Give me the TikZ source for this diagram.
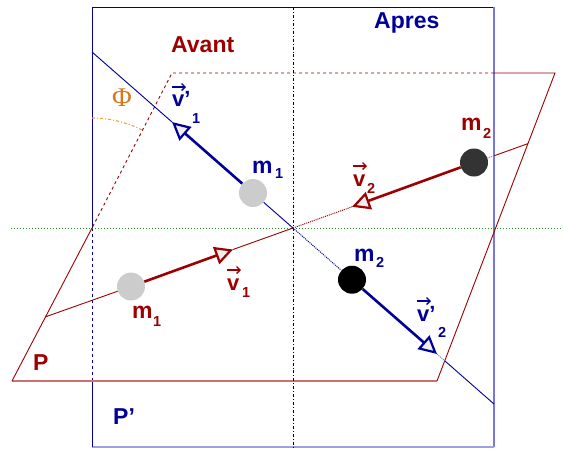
\documentclass[tikz,border=0pt]{standalone}
\usepackage{fontspec}
\setmainfont{Liberation Sans}
\newfontfamily\phifont{Liberation Serif}
\usetikzlibrary{arrows.meta}
\definecolor{dred}{HTML}{9C0000}
\definecolor{dblue}{HTML}{000099}
\definecolor{mblue}{HTML}{2222AA}
\definecolor{lblue}{HTML}{7777DD}
\definecolor{llblue}{HTML}{A0A0E0}
\definecolor{lred}{HTML}{CC7070}
\definecolor{phiorange}{HTML}{F0A040}
\definecolor{phitext}{HTML}{D9761A}
\definecolor{dgreen}{HTML}{228B22}
\definecolor{lgray}{HTML}{CCCCCC}
\definecolor{dgray}{HTML}{333333}
\definecolor{tipfill}{HTML}{EEEEEE}
\begin{document}
\begin{tikzpicture}[x=1pt,y=-1pt,
  big/.style={font=\fontsize{23}{23}\selectfont\bfseries, inner sep=0pt, anchor=base west},
  vlab/.style={font=\fontsize{22}{22}\selectfont\bfseries, inner sep=0pt, anchor=base west},
  sublab/.style={font=\fontsize{14.5}{14.5}\selectfont\bfseries, inner sep=0pt, anchor=base west},
  fineline/.style={line width=0.9pt},
  thickline/.style={line width=2.6pt, -{Triangle[length=18pt,width=18pt,fill=tipfill,line width=2.2pt]}},
  dotline/.style={line width=1pt, densely dotted},
  ball/.style={circle, inner sep=0pt, minimum size=28pt},
  vecarrow/.style={line width=1.3pt, -{Straight Barb[length=3.5pt,width=7pt]}}
]
\useasboundingbox (0,0) rectangle (563,448);

% Plane P' (frame)
\coordinate (F1) at (92,7);
\coordinate (F2) at (494,7);
\coordinate (F3) at (494,447);
\coordinate (F4) at (92,447);
\coordinate (FL1) at (92,228);
\coordinate (FL2) at (92,381);
\draw[dblue, fineline] (FL1) -- (F1) -- (F2);
\draw[lblue, line width=1.2pt] (F2) -- (F3);
\draw[llblue, line width=1.2pt] (F3) -- (F4);
\draw[dblue, fineline] (F4) -- (FL2);
\draw[dblue, fineline, dashed] (FL2) -- (FL1);

% Plane P
\coordinate (A) at (12,381);
\coordinate (B) at (437,381);
\coordinate (C) at (555,73);
\coordinate (D) at (172,73);
\coordinate (DT) at (494,73);
\draw[lred, line width=2pt] (A) -- (B);
\draw[dred, fineline] (B) -- (C) -- (DT);
\draw[dred, fineline, dashed] (DT) -- (D) -- (FL1);
\draw[dred, fineline] (FL1) -- (A);

% axes
\coordinate (V1) at (293,7);
\coordinate (V2) at (293,447);
\draw[black, fineline, dash dot] (V1) -- (V2);
\coordinate (G1) at (11,228);
\coordinate (G2) at (563,228);
\draw[dgreen, line width=1pt, dotted] (G1) -- (G2);

% angle Phi
\coordinate (phistart) at (92,118);
\draw[phiorange, line width=1.1pt, dash dot] (phistart) arc[start angle=-90, end angle=-62.7, radius=110];
\node[text=phitext, font=\phifont\fontsize{27}{27}\selectfont, inner sep=0pt] (phi) at (122,98) {Φ};

% balls
\node[ball, fill=lgray] (m1a) at (131,286.5) {};
\node[ball, fill=dgray] (m2a) at (474,162.5) {};
\node[ball, fill=lgray] (m1b) at (253,193) {};
\node[ball, fill=black] (m2b) at (352,279.7) {};

% red trajectory (avant)
\coordinate (O) at (293,228);
\coordinate (rl) at (45,317);
\coordinate (rr) at (528,143.6);
\coordinate (rx) at (494,155.8);
\coordinate (v1tip) at (233,249.5);
\coordinate (v2tip) at (352,206.8);
\draw[dred, fineline] (rl) -- (m1a);
\draw[dred, thickline] (m1a) -- (v1tip);
\draw[dred, fineline] (v1tip) -- (O);
\draw[dred, dotline] (O) -- (v2tip);
\draw[dred, thickline] (m2a) -- (v2tip);
\draw[lred, dotline] (m2a) -- (rx);
\draw[dred, fineline] (rx) -- (rr);

% blue trajectory (apres)
\coordinate (bl) at (92,52);
\coordinate (br) at (494,404);
\coordinate (bx) at (445,361);
\coordinate (w1tip) at (172,122);
\coordinate (w2tip) at (437,354);
\draw[dblue, fineline] (bl) -- (w1tip);
\draw[dblue, thickline] (m1b) -- (w1tip);
\draw[dblue, fineline] (m1b) -- (O);
\draw[dblue, dotline] (O) -- (m2b);
\draw[dblue, thickline] (m2b) -- (w2tip);
\draw[lblue, dotline] (w2tip) -- (bx);
\draw[dblue, fineline] (bx) -- (br);

% titles
\node[big, text=dred] (avant) at (171,52) {Avant};
\node[big, text=dblue] (apres) at (374,28) {Apres};
\node[big, text=dred] (plab) at (33,370) {P};
\node[big, text=dblue] (pplab) at (113,424) {P’};

% mass labels
\node[big, text=dblue] (lm1b) at (252,173) {m};
\node[sublab, text=dblue] (lm1bs) at (275,178) {1};
\node[big, text=dred] (lm1a) at (132,318) {m};
\node[sublab, text=dred] (lm1as) at (153,326) {1};
\node[big, text=dblue] (lm2b) at (354,261) {m};
\node[sublab, text=dblue] (lm2bs) at (376,267) {2};
\node[big, text=dred] (lm2a) at (461,130) {m};
\node[sublab, text=dred] (lm2as) at (483,138) {2};

% velocity labels
\node[vlab, text=dred] (lv1) at (227,290) {v};
\node[sublab, text=dred] (lv1s) at (242,297) {1};
\draw[dred, vecarrow] (227,270) -- (241,270);
\node[vlab, text=dred] (lv2) at (353,186) {v};
\node[sublab, text=dred] (lv2s) at (367,193) {2};
\draw[dred, vecarrow] (353,166) -- (367,166);
\node[vlab, text=dblue] (lw1) at (172,106) {v’};
\node[sublab, text=dblue] (lw1s) at (192,123) {1};
\draw[dblue, vecarrow] (172,87) -- (186,87);
\node[vlab, text=dblue] (lw2) at (417,321) {v’};
\node[sublab, text=dblue] (lw2s) at (438,337) {2};
\draw[dblue, vecarrow] (417,301) -- (431,301);
\end{tikzpicture}
\end{document}
